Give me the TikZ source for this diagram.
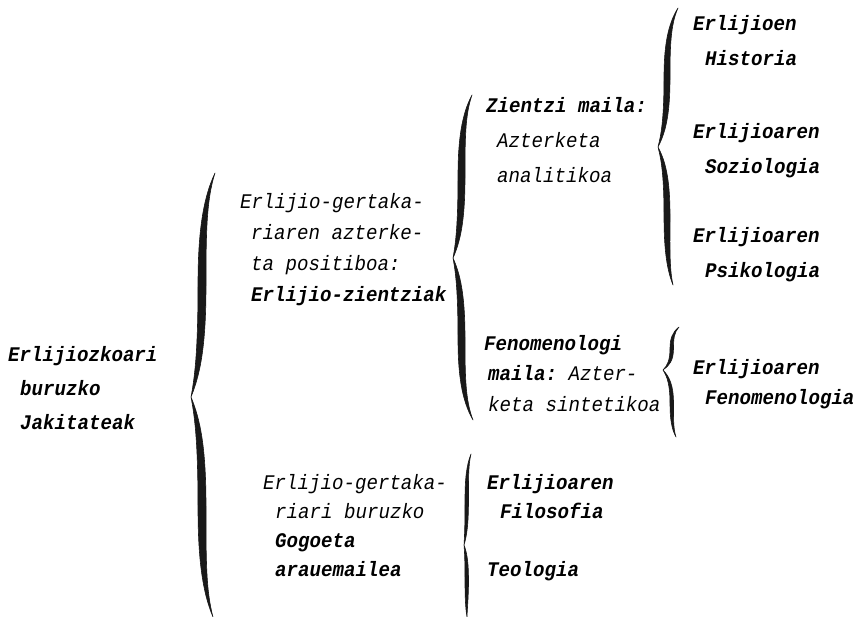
\documentclass[tikz,border=0pt]{standalone}
\usepackage{fontspec}
\setmonofont{Liberation Mono}[FakeStretch=0.92]
\newcommand\cbrace[8]{%
 \pgfmathsetmacro\brd{#4-#2}%
 \pgfmathsetmacro\bre{#6-#4}%
 \pgfmathsetmacro\brMy{#2+0.5*\brd}%
 \pgfmathsetmacro\brNy{#4+0.5*\bre}%
 \pgfmathsetmacro\brsw{#7+#8}%
 \pgfmathsetmacro\brTa{#7+0.25*(#1-#7)}%
 \pgfmathsetmacro\brTb{\brTa+0.5*#8}%
 \pgfmathsetmacro\brTy{#2+0.12*\brd}%
 \pgfmathsetmacro\brUa{\brMy-0.22*\brd}%
 \pgfmathsetmacro\brUb{\brMy+0.28*\brd}%
 \pgfmathsetmacro\brPa{#3+0.6*(#7-#3)}%
 \pgfmathsetmacro\brPb{\brPa+0.6*#8}%
 \pgfmathsetmacro\brPy{#4-0.1*\brd}%
 \pgfmathsetmacro\brQy{#4+0.1*\bre}%
 \pgfmathsetmacro\brLa{\brNy-0.28*\bre}%
 \pgfmathsetmacro\brLb{\brNy+0.22*\bre}%
 \pgfmathsetmacro\brBa{#7+0.25*(#5-#7)}%
 \pgfmathsetmacro\brBb{\brBa+0.5*#8}%
 \pgfmathsetmacro\brBy{#6-0.12*\bre}%
 \filldraw[bracestyle] (#1,#2) .. controls (\brTa,\brTy) and (#7,\brUa) .. (#7,\brMy)
   .. controls (#7,\brUb) and (\brPa,\brPy) .. (#3,#4)
   .. controls (\brPa,\brQy) and (#7,\brLa) .. (#7,\brNy)
   .. controls (#7,\brLb) and (\brBa,\brBy) .. (#5,#6)
   .. controls (\brBb,\brBy) and (\brsw,\brLb) .. (\brsw,\brNy)
   .. controls (\brsw,\brLa) and (\brPb,\brQy) .. (#3,#4)
   .. controls (\brPb,\brPy) and (\brsw,\brUb) .. (\brsw,\brMy)
   .. controls (\brsw,\brUa) and (\brTb,\brTy) .. cycle;
}
\tikzset{
  bracestyle/.style={fill=black!90, draw=black!90, line width=0.6pt, line join=round},
  txt/.style={anchor=base west, inner sep=0pt, font=\ttfamily\itshape\fontsize{20.8}{24}\selectfont},
  bld/.style={anchor=base west, inner sep=0pt, font=\ttfamily\bfseries\itshape\fontsize{20.8}{24}\selectfont}
}
\begin{document}
\begin{tikzpicture}[x=1pt,y=-1pt]
\useasboundingbox (0,0) rectangle (859,617);
% braces
\cbrace{215}{173}{191}{397}{213}{617}{198}{8}
\cbrace{472}{95}{453}{258}{473}{420}{458}{7}
\cbrace{678}{8}{658}{147}{673}{285}{664}{6}
\cbrace{679}{327}{663}{370}{676}{437}{670}{3.5}
\cbrace{471}{454}{464}{545}{467}{617}{465}{3.5}
% left
\node[bld] (l1) at (8,361) {Erlijiozkoari};
\node[bld] (l2) at (20,395) {buruzko};
\node[bld] (l3) at (20,429) {Jakitateak};
% middle left upper
\node[txt] (a1) at (240,209) {Erlijio-gertaka-};
\node[txt] (a2) at (251,240) {riaren azterke-};
\node[txt] (a3) at (251,271) {ta positiboa:};
\node[bld] (a4) at (251,302) {Erlijio-zientziak};
% zientzi maila
\node[bld] (z1) at (486,113) {Zientzi maila:};
\node[txt] (z2) at (497,148) {Azterketa};
\node[txt] (z3) at (497,183) {analitikoa};
% right column
\node[bld] (h1) at (693,31) {Erlijioen};
\node[bld] (h2) at (705,66) {Historia};
\node[bld] (s1) at (693,139) {Erlijioaren};
\node[bld] (s2) at (705,174) {Soziologia};
\node[bld] (p1) at (693,243) {Erlijioaren};
\node[bld] (p2) at (705,278) {Psikologia};
% fenomenologi
\node[bld] (f1) at (484,351) {Fenomenologi};
\node[txt] (f2) at (488,381) {{\bfseries maila:} Azter-};
\node[txt] (f3) at (488,411) {keta sintetikoa};
\node[bld] (g1) at (693,374) {Erlijioaren};
\node[bld] (g2) at (705,404) {Fenomenologia};
% lower
\node[txt] (b1) at (263,489) {Erlijio-gertaka-};
\node[txt] (b2) at (275,518) {riari buruzko};
\node[bld] (b3) at (275,547) {Gogoeta};
\node[bld] (b4) at (275,576) {arauemailea};
\node[bld] (t1) at (487,489) {Erlijioaren};
\node[bld] (t2) at (500,518) {Filosofia};
\node[bld] (t3) at (487,576) {Teologia};
\end{tikzpicture}
\end{document}
